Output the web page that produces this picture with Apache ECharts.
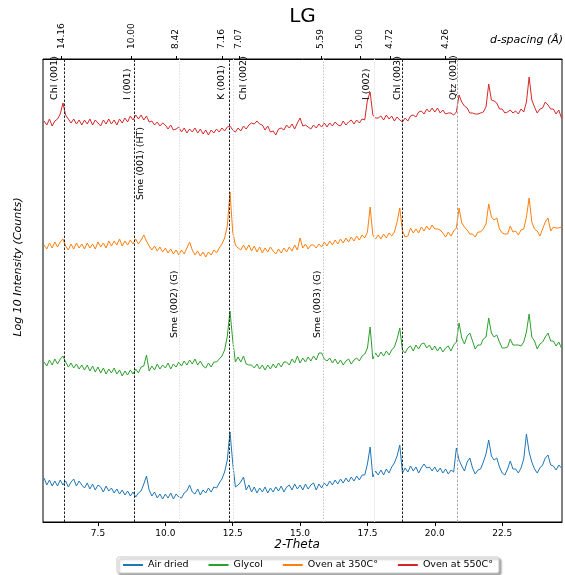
<!DOCTYPE html>
<html>
<head>
<meta charset="utf-8">
<script src="https://cdn.jsdelivr.net/npm/echarts@6/dist/echarts.min.js"></script>
<style>
  html, body { margin: 0; padding: 0; background: #ffffff; }
  #chart { width: 565px; height: 575px; }
</style>
</head>
<body>
<div id="chart"></div>
<script>
// Scan grid: 2-Theta from 5.5 deg in 0.1 deg steps
const angleStart = 5.5;
const angleStep = 0.1;

// Offset log-intensity traces (arbitrary units, stacked)
const airDried = [
  44, 37, 42, 36, 41,
  36, 42, 37, 41, 35, 40, 43, 36, 41, 37,
  34, 39, 33, 38, 32, 37, 35, 30, 36, 31,
  34, 29, 33, 28, 32, 27, 31, 26, 30, 25,
  29, 31, 38, 46, 32, 26, 30, 24, 28, 23,
  28, 24, 29, 23, 28, 25, 24, 29, 31, 37,
  30, 28, 33, 27, 32, 29, 34, 30, 35, 34,
  39, 43, 50, 62, 90, 59, 35, 37, 40, 45,
  32, 37, 30, 35, 29, 34, 30, 35, 29, 34,
  30, 35, 31, 36, 30, 35, 37, 32, 38, 33,
  37, 32, 38, 33, 37, 39, 32, 38, 34, 39,
  36, 41, 37, 42, 38, 43, 39, 44, 40, 45,
  41, 46, 42, 47, 47, 58, 75, 45, 51, 47,
  52, 47, 53, 49, 55, 59, 66, 77, 49, 54,
  50, 56, 51, 55, 49, 54, 58, 54, 55, 51,
  55, 50, 54, 49, 53, 48, 52, 50, 74, 62,
  56, 51, 60, 64, 54, 48, 52, 53, 60, 68,
  82, 66, 62, 64, 55, 49, 47, 53, 61, 53,
  53, 49, 54, 63, 88, 70, 60, 53, 49, 54,
  57, 64, 67, 57, 56, 52, 57, 54
];
const glycol = [
  160, 156, 162, 157, 163,
  158, 163, 166, 160, 155, 159, 154, 158, 153, 157,
  152, 157, 151, 156, 150, 155, 149, 154, 148, 153,
  149, 154, 148, 152, 146, 151, 147, 152, 148, 153,
  149, 155, 156, 167, 151, 156, 152, 158, 153, 157,
  154, 159, 153, 158, 155, 160, 156, 161, 157, 162,
  158, 163, 157, 161, 156, 154, 159, 155, 160, 160,
  163, 166, 172, 186, 211, 182, 160, 165, 160, 166,
  158, 157, 157, 154, 158, 153, 157, 152, 157, 153,
  158, 154, 159, 155, 160, 160, 157, 163, 159, 166,
  159, 164, 160, 165, 161, 166, 162, 169, 169, 163,
  161, 164, 159, 163, 158, 162, 157, 161, 163, 158,
  162, 164, 161, 166, 168, 174, 195, 163, 169, 165,
  170, 166, 171, 167, 172, 175, 183, 194, 172, 169,
  174, 176, 171, 177, 173, 178, 179, 174, 177, 172,
  176, 171, 175, 170, 174, 176, 171, 177, 180, 199,
  184, 178, 186, 189, 181, 173, 177, 177, 183, 185,
  204, 189, 185, 187, 180, 174, 174, 175, 183, 177,
  177, 177, 176, 180, 190, 208, 185, 181, 173, 178,
  180, 185, 189, 181, 181, 176, 180, 174
];
const oven350 = [
  277, 273, 279, 274, 280,
  275, 280, 283, 276, 272, 278, 273, 279, 274, 278,
  273, 279, 274, 278, 273, 280, 275, 279, 274, 281,
  276, 281, 277, 283, 276, 281, 277, 282, 278, 283,
  278, 282, 287, 281, 276, 272, 276, 271, 275, 270,
  274, 269, 273, 268, 272, 267, 272, 268, 274, 280,
  272, 267, 271, 266, 270, 265, 270, 267, 272, 269,
  274, 278, 284, 296, 330, 290, 277, 274, 272, 277,
  272, 277, 271, 276, 270, 275, 269, 274, 270, 275,
  271, 268, 273, 269, 274, 270, 275, 271, 277, 272,
  284, 274, 278, 273, 277, 277, 274, 278, 275, 280,
  276, 281, 277, 282, 278, 283, 279, 284, 280, 285,
  281, 286, 282, 287, 284, 290, 315, 287, 283, 287,
  283, 288, 284, 289, 286, 290, 300, 314, 291, 285,
  286, 294, 289, 293, 289, 295, 291, 296, 292, 297,
  293, 293, 292, 289, 285, 290, 286, 291, 294, 314,
  299, 295, 292, 288, 288, 285, 290, 290, 293, 298,
  318, 305, 302, 304, 293, 289, 288, 288, 296, 290,
  291, 287, 292, 293, 305, 324, 300, 293, 291, 286,
  293, 300, 304, 291, 295, 294, 294, 295
];
const oven550 = [
  401, 397, 403, 396, 401,
  403, 408, 419, 407, 403, 399, 403, 398, 402, 397,
  402, 398, 403, 397, 402, 399, 396, 402, 398, 403,
  398, 402, 397, 403, 399, 404, 400, 406, 402, 407,
  403, 407, 402, 406, 400, 401, 397, 400, 396, 399,
  397, 393, 397, 392, 393, 395, 390, 394, 389, 393,
  390, 394, 389, 393, 388, 392, 387, 392, 389, 393,
  390, 394, 391, 395, 396, 392, 390, 394, 391, 396,
  393, 397, 399, 398, 401, 398, 397, 392, 396, 390,
  391, 387, 393, 394, 392, 397, 394, 398, 393, 399,
  404, 396, 397, 395, 393, 397, 394, 398, 395, 399,
  395, 399, 396, 400, 397, 396, 401, 397, 400, 402,
  398, 402, 399, 403, 402, 422, 430, 407, 404, 404,
  406, 402, 407, 403, 406, 401, 405, 402, 400, 404,
  401, 406, 407, 405, 410, 411, 408, 413, 410, 414,
  410, 414, 409, 412, 408, 409, 409, 407, 410, 427,
  420, 416, 414, 409, 409, 408, 408, 409, 410, 415,
  438, 422, 421, 419, 413, 413, 409, 410, 412, 409,
  411, 408, 413, 410, 420, 445, 422, 415, 409, 413,
  414, 420, 417, 413, 413, 408, 412, 404
];

const seriesNames = ['Air dried', 'Glycol', 'Oven at 350C°', 'Oven at 550C°'];
const seriesColors = ['#1f77b4', '#2ca02c', '#ff7f0e', '#d62728'];

// Bottom axis ticks (2-Theta)
const thetaTicks = [7.5, 10, 12.5, 15, 17.5, 20, 22.5];

// Reference reflections: name, 2-Theta position, line style key
const peakNames  = ['Chl (001)', 'I (001)', 'Sme (001) (HT)', 'Sme (002) (G)', 'K (001)', 'Chl (002)', 'Sme (003) (G)', 'I (002)', 'Chl (003)', 'Qtz (001)'];
const peakAngles = [6.24, 8.84, 8.84, 10.50, 12.36, 12.52, 15.85, 17.74, 18.80, 20.85];
const peakLineKinds = ['dark', 'dark', 'none', 'faint', 'dark', 'faint', 'dotted', 'faintest', 'dark', 'grey'];

// Top axis: d-spacing labels and where they sit along 2-Theta
const dSpacingLabels = ['14.16', '10.00', '8.42', '7.16', '7.07', '5.59', '5.00', '4.72', '4.26'];
const dSpacingTicks  = [6.14, 8.75, 10.39, 12.10, 12.73, 15.77, 17.22, 18.34, 20.39];

// ---- layout ----
const W = 565, H = 575;
const GRID = { left: 43, right: 3, top: 59, bottom: 53 };
const FONT = 'DejaVu Sans';
const lineKindStyle = {
  dark:     { color: '#222222', width: 1, type: [2.5, 1.5] },
  grey:     { color: '#aaaaaa', width: 1, type: [2.5, 1.5] },
  dotted:   { color: '#c4c4c4', width: 1, type: [1.5, 1.5] },
  faint:    { color: '#dddddd', width: 1, type: [1.5, 1.5] },
  faintest: { color: '#eeeeee', width: 1, type: 'solid' }
};
// label placement for each reflection: horizontal shift from its line, text start (px below grid top)
const peakLabelLayout = [
  { dx: -9, start: 41 }, { dx: -7, start: 41 }, { dx: 6, start: 141 },
  { dx: -4, start: 279 }, { dx: -7, start: 41 }, { dx: 10, start: 41 },
  { dx: -5, start: 279 }, { dx: -7, start: 41 }, { dx: -5, start: 41 },
  { dx: -4, start: 41 }
];

function toPairs(values) {
  return values.map((v, i) => [+(angleStart + i * angleStep).toFixed(2), v]);
}

const chart = echarts.init(document.getElementById('chart'), null, { renderer: 'canvas' });

const seriesData = [airDried, glycol, oven350, oven550];
const series = seriesData.map((vals, k) => ({
  name: seriesNames[k],
  type: 'line',
  data: toPairs(vals),
  showSymbol: false,
  symbol: 'none',
  sampling: 'none',
  lineStyle: { width: 1, color: seriesColors[k] },
  itemStyle: { color: seriesColors[k] },
  z: 3
}));

// Reference lines, drawn on their own empty series
series.push({
  name: 'reflections',
  type: 'line',
  data: [],
  silent: true,
  z: 2,
  markLine: {
    silent: true,
    symbol: ['none', 'none'],
    label: { show: false },
    animation: false,
    data: peakAngles
      .map((a, i) => ({ kind: peakLineKinds[i], a }))
      .filter(d => d.kind !== 'none')
      .map(d => ({ xAxis: d.a, lineStyle: lineKindStyle[d.kind] }))
  }
});

const xMin = 5.46, xMax = 24.72;

chart.setOption({
  animation: false,
  backgroundColor: '#ffffff',
  textStyle: { fontFamily: FONT },
  grid: {
    left: GRID.left, right: GRID.right, top: GRID.top, bottom: GRID.bottom,
    show: true, borderColor: '#000', borderWidth: 1, backgroundColor: 'transparent'
  },
  legend: {
    data: seriesNames,
    top: 557,
    left: 117,
    itemWidth: 20,
    itemHeight: 2,
    itemGap: 20,
    icon: 'rect',
    padding: [3, 6, 3, 6],
    borderColor: '#cccccc',
    borderWidth: 1,
    borderRadius: 2,
    backgroundColor: '#ffffff',
    shadowColor: 'rgba(0,0,0,0.35)',
    shadowBlur: 2,
    shadowOffsetX: 2,
    shadowOffsetY: 2,
    textStyle: { fontFamily: FONT, fontSize: 9.5, color: '#000' }
  },
  xAxis: [
    {
      type: 'value', position: 'bottom', min: xMin, max: xMax,
      axisLine: { show: true, lineStyle: { color: '#000', width: 1 } },
      axisTick: { show: true, length: 4, customValues: thetaTicks, lineStyle: { color: '#000' } },
      axisLabel: {
        customValues: thetaTicks, margin: 7, color: '#000',
        fontFamily: FONT, fontSize: 9,
        formatter: v => v.toFixed(1)
      },
      splitLine: { show: false }
    },
    {
      type: 'value', position: 'top', min: xMin, max: xMax,
      axisLine: { show: true, lineStyle: { color: '#000', width: 1 } },
      axisTick: { show: true, length: 3, customValues: dSpacingTicks, lineStyle: { color: '#000' } },
      axisLabel: { show: false },
      splitLine: { show: false }
    }
  ],
  yAxis: {
    type: 'value', min: 0, max: 463,
    axisLine: { show: false }, axisTick: { show: false },
    axisLabel: { show: false }, splitLine: { show: false }
  },
  series: series
});

// Annotations: reflection names, d-spacing labels, titles
const graphics = [];
const vText = (x, y, text, font, align) => ({
  type: 'text', x, y, rotation: Math.PI / 2, silent: true, z: 10,
  style: { text, font, fill: '#000', align: align || 'left', verticalAlign: 'middle' }
});
peakNames.forEach((name, i) => {
  const px = chart.convertToPixel({ xAxisIndex: 0 }, peakAngles[i]);
  const lay = peakLabelLayout[i];
  graphics.push(vText(px + lay.dx, GRID.top + lay.start, name, '9.5px "' + FONT + '"'));
});
dSpacingTicks.forEach((t, i) => {
  const px = chart.convertToPixel({ xAxisIndex: 1 }, t);
  graphics.push(vText(px, GRID.top - 10, dSpacingLabels[i], '9px "' + FONT + '"'));
});
const plotMidX = GRID.left + (W - GRID.left - GRID.right) / 2;
graphics.push({
  type: 'text', x: plotMidX, y: 17, silent: true,
  style: { text: 'LG', font: '20px "' + FONT + '"', fill: '#000', align: 'center', verticalAlign: 'middle' }
});
graphics.push({
  type: 'text', x: 297, y: 545, silent: true,
  style: { text: '2-Theta', font: 'italic 12px "' + FONT + '"', fill: '#000', align: 'center', verticalAlign: 'middle' }
});
graphics.push(vText(18, 267, 'Log 10 Intensity (Counts)', 'italic 11px "' + FONT + '"', 'center'));
graphics.push({
  type: 'text', x: 563, y: 40, silent: true,
  style: { text: 'd-spacing (Å)', font: 'italic 11px "' + FONT + '"', fill: '#000', align: 'right', verticalAlign: 'middle' }
});
chart.setOption({ graphic: graphics });
</script>
</body>
</html>
